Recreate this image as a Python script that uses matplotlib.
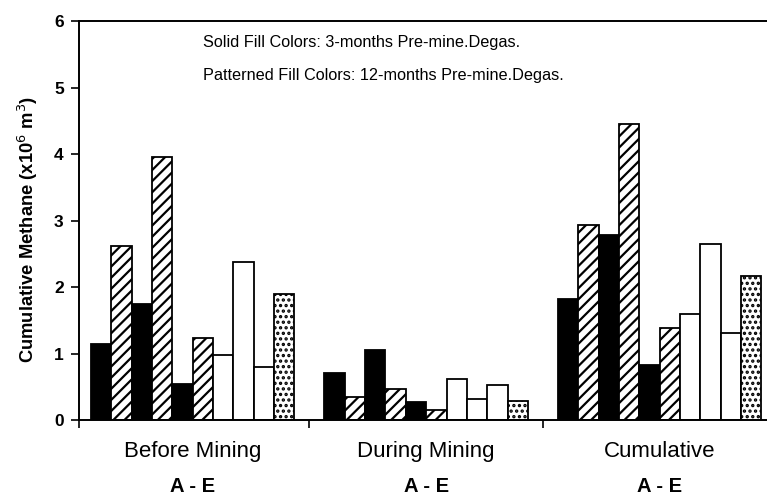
import matplotlib
matplotlib.use("Agg")
import matplotlib.pyplot as plt
import numpy as np

plt.rcParams['font.family'] = ['Liberation Sans', 'DejaVu Sans']
plt.rcParams['hatch.linewidth'] = 1.6

groups = ["Before Mining", "During Mining", "Cumulative"]
sub_label = "A - E"
series_names = ["A 3-mo", "A 12-mo", "B 3-mo", "B 12-mo", "C 3-mo",
                "C 12-mo", "D 3-mo", "D 12-mo", "E 3-mo", "E 12-mo"]
before_mining = [1.15, 2.62, 1.74, 3.96, 0.54, 1.23, 0.97, 2.37, 0.80, 1.90]
during_mining = [0.70, 0.34, 1.06, 0.47, 0.27, 0.15, 0.62, 0.31, 0.52, 0.28]
cumulative = [1.82, 2.93, 2.78, 4.45, 0.82, 1.38, 1.60, 2.65, 1.31, 2.17]
y_ticks = [0, 1, 2, 3, 4, 5, 6]

styles = [
    ("black", None), ("white", "///"),
    ("black", None), ("white", "///"),
    ("black", None), ("white", "///"),
    ("white", None), ("white", None),
    ("white", None), ("white", "..."),
]

fig = plt.figure(figsize=(7.67, 4.98), dpi=100)
ax = fig.add_axes([79/767, 1-420/498, 1-79/767, (420-21)/498])

data = np.array([before_mining, during_mining, cumulative])
n = len(series_names)
w = 0.0872
x = np.arange(len(groups))
for i in range(n):
    fc, h = styles[i]
    ax.bar(x + (i - (n-1)/2) * w, data[:, i], width=w, color=fc,
           edgecolor="black", linewidth=1.3, hatch=h, label=series_names[i])

ax.set_xlim(-0.487, 2.46)
ax.set_ylim(0, 6)
ax.set_yticks(y_ticks)
ax.set_yticklabels([str(t) for t in y_ticks], fontsize=12.5, fontweight="bold")
ax.tick_params(axis="y", direction="out", length=6, width=1.2, pad=5)
ax.set_xticks([-0.487, 0.5, 1.5])
ax.set_xticklabels([])
ax.tick_params(axis="x", direction="out", length=6, width=1.2)
for s in ["left", "bottom", "top"]:
    ax.spines[s].set_linewidth(1.4)
ax.spines["right"].set_visible(False)

for xi, g in zip(x, groups):
    ax.text(xi, -0.47, g, ha="center", va="center", fontsize=16,
            transform=ax.transData, clip_on=False)
    ax.text(xi, -1.0, sub_label, ha="center", va="center", fontsize=14.5,
            fontweight="bold", transform=ax.transData, clip_on=False)

ax.text((203-79)/688, 1-(42-21)/399, "Solid Fill Colors: 3-months Pre-mine.Degas.",
        transform=ax.transAxes, ha="left", va="center", fontsize=11.7)
ax.text((203-79)/688, 1-(75-21)/399, "Patterned Fill Colors: 12-months Pre-mine.Degas.",
        transform=ax.transAxes, ha="left", va="center", fontsize=11.7)

fig.text(28/767, 1-230/498, "Cumulative Methane (x10$^6$ m$^3$)", rotation=90,
         ha="center", va="center", fontsize=13.2, fontweight="bold")

fig.savefig("out.png", dpi=100)
